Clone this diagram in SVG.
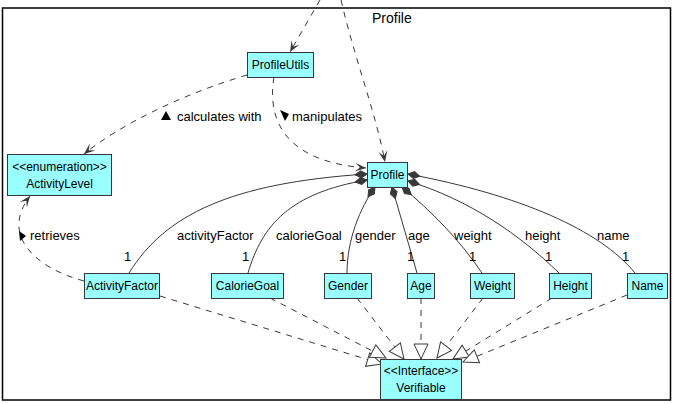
<svg xmlns="http://www.w3.org/2000/svg" width="673" height="404" viewBox="0 0 673 404">
<style>
.node rect{fill:#99FFFF;stroke:#383838;stroke-width:1}
text{font-family:"Liberation Sans",Arial,sans-serif;font-size:12px;fill:#000}
.lbl{font-size:13px}
.c{text-anchor:middle}
.dep{fill:none;stroke:#383838;stroke-width:1;stroke-dasharray:6,6;marker-end:url(#arrow)}
.real{fill:none;stroke:#383838;stroke-width:1;stroke-dasharray:6,6;marker-end:url(#tri)}
.comp{fill:none;stroke:#383838;stroke-width:1;marker-start:url(#dia)}
</style>
<defs>
<marker id="arrow" markerUnits="userSpaceOnUse" viewBox="-12 -6 14 12" refX="0" refY="0" markerWidth="14" markerHeight="12" orient="auto" overflow="visible">
<path d="M0,0 L-11,-4.5 L-6,0 L-11,4.5 Z" fill="#383838"/>
</marker>
<marker id="tri" markerUnits="userSpaceOnUse" viewBox="-16 -8 18 16" refX="0" refY="0" markerWidth="18" markerHeight="16" orient="auto" overflow="visible">
<path d="M0,0 L-15,-7 L-15,7 Z" fill="#FFFFFF" stroke="#383838" stroke-width="1" stroke-dasharray="none"/>
</marker>
<marker id="dia" markerUnits="userSpaceOnUse" viewBox="-1 -5 15 10" refX="0" refY="0" markerWidth="15" markerHeight="10" orient="auto" overflow="visible">
<path d="M0,0 L6,-3.5 L12,0 L6,3.5 Z" fill="#383838" stroke="#383838" stroke-width="1"/>
</marker>
</defs>
<rect x="2.5" y="8" width="668" height="392" fill="none" stroke="#000" stroke-width="1.5"/>
<text x="372" y="23" style="font-size:14px">Profile</text>
<g id="connectors">
<path class="dep" d="M320,0 L290,52"/>
<path class="dep" d="M341,0 C355,60 375,110 385,162"/>
<path class="dep" d="M247,75 C180,95 120,125 84,154"/>
<path class="dep" d="M274,77 C266,125 290,162 366,168"/>
<path class="dep" d="M84,281 C35,268 0,235 30,196"/>
<path class="comp" d="M367,174 C230,183 165,215 129,273"/>
<path class="comp" d="M367,180 C290,193 262,225 248,273"/>
<path class="comp" d="M375,187 C360,208 347,240 347,273"/>
<path class="comp" d="M392,187 L417,273"/>
<path class="comp" d="M402,187 C430,210 460,240 482,273"/>
<path class="comp" d="M408,181 C470,200 520,235 559,273"/>
<path class="comp" d="M408,174 C520,195 600,230 635,273"/>
<path class="real" d="M160,296 L382,364"/>
<path class="real" d="M270,298 L386,358"/>
<path class="real" d="M357,298 L404,359"/>
<path class="real" d="M421,298 L421,359"/>
<path class="real" d="M483,298 L437,358"/>
<path class="real" d="M552,298 L453,359"/>
<path class="real" d="M627,295 L463,362"/>
<polygon points="166,111 171,120 161,120" fill="#000"/>
<text class="lbl" x="177" y="121">calculates with</text>
<polygon points="280,110 289,114 285,121" fill="#000"/>
<text class="lbl" x="292" y="121">manipulates</text>
<polygon points="19,231 26,236 20,241" fill="#000"/>
<text class="lbl" x="30" y="240">retrieves</text>
<text class="lbl" x="177" y="240">activityFactor</text>
<text class="lbl" x="276" y="240">calorieGoal</text>
<text class="lbl" x="355" y="240">gender</text>
<text class="lbl" x="408" y="240">age</text>
<text class="lbl" x="454" y="240">weight</text>
<text class="lbl" x="525" y="240">height</text>
<text class="lbl" x="597" y="240">name</text>
<text class="lbl" x="124" y="261">1</text>
<text class="lbl" x="242" y="261">1</text>
<text class="lbl" x="339" y="261">1</text>
<text class="lbl" x="407" y="261">1</text>
<text class="lbl" x="469" y="261">1</text>
<text class="lbl" x="545" y="261">1</text>
<text class="lbl" x="622" y="261">1</text>
</g>
<g id="ProfileUtils" class="node"><rect x="247.5" y="52.5" width="66" height="25"/><text class="c" x="280.5" y="69">ProfileUtils</text></g>
<g id="Profile" class="node"><rect x="367.5" y="162.5" width="40" height="25"/><text class="c" x="387.5" y="179">Profile</text></g>
<g id="ActivityLevel" class="node"><rect x="7.5" y="154.5" width="104" height="41"/><text class="c" x="59.5" y="171">&lt;&lt;enumeration&gt;&gt;</text><text class="c" x="59.5" y="188">ActivityLevel</text></g>
<g id="ActivityFactor" class="node"><rect x="84.5" y="273.5" width="75" height="25"/><text class="c" x="122" y="290">ActivityFactor</text></g>
<g id="CalorieGoal" class="node"><rect x="211.5" y="273.5" width="72" height="25"/><text class="c" x="247.5" y="290">CalorieGoal</text></g>
<g id="Gender" class="node"><rect x="324.5" y="273.5" width="47" height="25"/><text class="c" x="348" y="290">Gender</text></g>
<g id="Age" class="node"><rect x="407.5" y="273.5" width="27" height="25"/><text class="c" x="421" y="290">Age</text></g>
<g id="Weight" class="node"><rect x="470.5" y="273.5" width="44" height="25"/><text class="c" x="492.5" y="290">Weight</text></g>
<g id="Height" class="node"><rect x="549.5" y="273.5" width="42" height="25"/><text class="c" x="570.5" y="290">Height</text></g>
<g id="Name" class="node"><rect x="627.5" y="273.5" width="40" height="25"/><text class="c" x="647.5" y="290">Name</text></g>
<g id="Verifiable" class="node"><rect x="380.5" y="359.5" width="81" height="40"/><text class="c" x="421" y="375">&lt;&lt;Interface&gt;&gt;</text><text class="c" x="421" y="392">Verifiable</text></g>
</svg>
